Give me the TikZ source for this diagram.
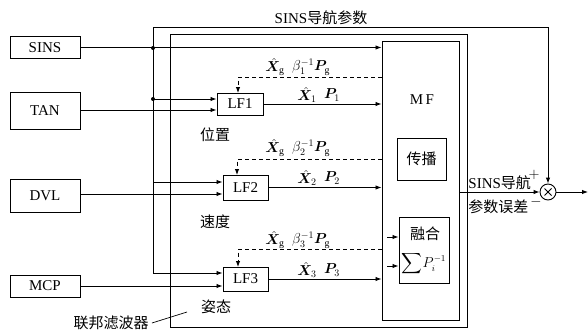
\documentclass[tikz,border=0pt]{standalone}
\usepackage{fontspec}
\usepackage{amsmath,bm}
\setmainfont{Liberation Serif}
\newfontfamily\cjk{Noto Sans CJK SC}
\usetikzlibrary{arrows.meta,calc}
\begin{document}
\begin{tikzpicture}[x=1pt,y=-1pt,
  line width=0.9pt,
  >={Latex[length=6pt,width=4.5pt]},
  blk/.style={draw,line width=1pt},
  txt/.style={font=\fontsize{15}{17}\selectfont,inner sep=0pt},
  ctxt/.style={font=\fontsize{15}{17}\selectfont\cjk,inner sep=0pt},
  lbl/.style={font=\fontsize{14}{16}\selectfont,inner sep=0pt},
  dot/.style={circle,fill,inner sep=0pt,minimum size=4pt},
  fb/.style={dashed,dash pattern=on 4pt off 3pt,->}
]
\useasboundingbox (0,0) rectangle (588,329);
% source boxes
\node[blk,txt,minimum width=70pt,minimum height=21pt] (sins) at (45,47.5) {SINS};
\node[blk,txt,minimum width=70pt,minimum height=37pt] (tan) at (45,110.5) {TAN};
\node[blk,txt,minimum width=70pt,minimum height=33pt] (dvl) at (45,195.5) {DVL};
\node[blk,txt,minimum width=70pt,minimum height=22pt] (mcp) at (45,286) {MCP};
% federated filter frame
\draw[line width=1pt] (170,35) rectangle (467,327);
% local filters
\node[blk,txt,minimum width=46pt,minimum height=22pt] (lf1) at (240,104) {LF1};
\node[blk,txt,minimum width=45pt,minimum height=25pt] (lf2) at (245.5,187.5) {LF2};
\node[blk,txt,minimum width=45pt,minimum height=24pt] (lf3) at (245.5,279) {LF3};
% master filter
\node[blk,minimum width=77pt,minimum height=278pt] (mf) at (420.5,181) {};
\node[txt] (mft) at (422,100) {M\,F};
\node[blk,ctxt,minimum width=49pt,minimum height=42pt] (cb) at (421.5,159) {传播};
\node[blk,minimum width=50pt,minimum height=66pt] (rh) at (424,250) {};
\node[ctxt] (rht) at (425,234) {融合};
\node[inner sep=0pt,font=\fontsize{13.5}{16}\selectfont] (sum) at (424,264) {$\displaystyle\sum\! P_i^{-1}$};
% summing junction
\node[draw,circle,minimum size=16pt,inner sep=0pt,line width=0.9pt] (sj) at (548,192) {};
\draw[line width=0.8pt] ($(sj.center)+(-3.5,-3.5)$) -- ($(sj.center)+(3.5,3.5)$);
\draw[line width=0.8pt] ($(sj.center)+(-3.5,3.5)$) -- ($(sj.center)+(3.5,-3.5)$);
\coordinate (out) at (588,192);
% SINS distribution
\coordinate (v1) at (153,48);
\coordinate (v2) at (153,99);
\coordinate (v3) at (153,182);
\coordinate (v4) at (153,273);
\coordinate (top) at (153,27);
\coordinate (topr) at (548,27);
\node[dot] at (v1) {};
\node[dot] at (v2) {};
\draw[->] (sins.east) -- (sins.east -| mf.west);
\draw[->] (v4) -- (top) -- (topr) -- (sj.north);
\draw[->] (v2) -- (v2 -| lf1.west);
\draw[->] (tan.east |- 0,110) -- (lf1.west |- 0,110);
\draw[->] (v3) -- (v3 -| lf2.west);
\draw[->] (dvl.east |- 0,194) -- (lf2.west |- 0,194);
\draw[->] (v4) -- (v4 -| lf3.west);
\draw[->] (mcp.east) -- (mcp.east -| lf3.west);
% LF outputs
\draw[->] (lf1.east) -- (lf1.east -| mf.west);
\draw[->] (lf2.east) -- (lf2.east -| mf.west);
\draw[->] (lf3.east) -- (lf3.east -| mf.west);
% feedback dashed
\draw[fb] (mf.west |- 0,77) -- (238,77) -- (238,93);
\draw[fb] (mf.west |- 0,159) -- (237,159) -- (237,175);
\draw[fb] (mf.west |- 0,249) -- (238,249) -- (238,267);
% small arrows into fusion
\draw[->] (387,237) -- (rh.west |- 0,237);
\draw[->] (387,266) -- (rh.west |- 0,266);
% MF output
\draw[->] (mf.east |- sj) -- (sj.west);
\draw[->] (sj.east) -- (out);
% labels
\node[lbl] (x1g) at (275,67) {$\hat{\bm X}_{\mathrm g}$};
\node[lbl] (b1) at (311,67) {$\beta_1^{-1}\bm P_{\mathrm g}$};
\node[lbl] (x1) at (307,95) {$\hat{\bm X}_1$};
\node[lbl] (p1s) at (332,95) {$\bm P_1$};
\node[lbl] (x2g) at (275,148) {$\hat{\bm X}_{\mathrm g}$};
\node[lbl] (b2) at (311,148) {$\beta_2^{-1}\bm P_{\mathrm g}$};
\node[lbl] (x2) at (307,178) {$\hat{\bm X}_2$};
\node[lbl] (p2s) at (332,178) {$\bm P_2$};
\node[lbl] (x3g) at (275,240) {$\hat{\bm X}_{\mathrm g}$};
\node[lbl] (b3) at (311,240) {$\beta_3^{-1}\bm P_{\mathrm g}$};
\node[lbl] (x3) at (307,270) {$\hat{\bm X}_3$};
\node[lbl] (p3s) at (332,270) {$\bm P_3$};
\node[txt] (tl) at (321,18) {SINS{\cjk 导航参数}};
\node[ctxt] (p1) at (215,135) {位置};
\node[ctxt] (p2) at (215,222) {速度};
\node[ctxt] (p3) at (216,307) {姿态};
\node[txt,anchor=west] (e1) at (468,183) {SINS{\cjk 导航}};
\node[ctxt,anchor=west] (e2) at (468,207) {参数误差};
\node[lbl] (plus) at (534,175) {$+$};
\node[lbl] (minus) at (536,202) {$-$};
\node[ctxt] (ff) at (111,323) {联邦滤波器};
\draw[line width=0.7pt] (ff.east) ++(3,0) coordinate (ffa) -- (187,312);
\end{tikzpicture}
\end{document}
